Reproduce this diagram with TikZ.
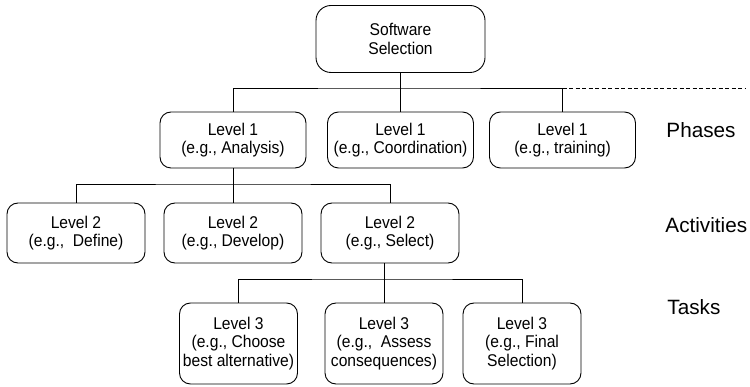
\documentclass[tikz,border=0pt]{standalone}
\usepackage{fontspec}
\setmainfont{Liberation Sans}
\usepackage{tikz}
\usetikzlibrary{positioning,calc}

\begin{document}
\begin{tikzpicture}[
    x=1pt, y=-1pt,
    line width=0.9pt,
    levelbox/.style={rectangle, draw, rounded corners=11pt, inner sep=0pt, align=center,
        font=\fontsize{17}{18.5}\selectfont\addfontfeature{FakeStretch=0.92}},
    lvlone/.style={levelbox, minimum width=146pt, minimum height=56pt},
    lvltwo/.style={levelbox, minimum width=138pt, minimum height=60pt},
    lvlthree/.style={levelbox, minimum width=118pt, minimum height=81pt},
    tag/.style={anchor=base west, inner sep=0pt, font=\fontsize{20.7}{24}\selectfont},
]
\useasboundingbox (0,0) rectangle (750,387);

% Root
\node[levelbox, rounded corners=15pt, minimum width=169pt, minimum height=67pt] (root) at (400.5,39) {Software\\Selection};

% Phases
\node[lvlone] (p1) at (233,140) {Level 1\\(e.g., Analysis)};
\node[lvlone] (p2) at (400.5,140) {Level 1\\(e.g., Coordination)};
\node[lvlone] (p3) at (562.5,140) {Level 1\\(e.g., training)};

% Activities
\node[lvltwo] (a1) at (76,233) {Level 2\\(e.g.,~ Define)};
\node[lvltwo] (a2) at (233,233) {Level 2\\(e.g., Develop)};
\node[lvltwo] (a3) at (390,233) {Level 2\\(e.g., Select)};

% Tasks
\node[lvlthree] (t1) at (238.5,343.5) {Level 3\\(e.g., Choose\\best alternative)};
\node[lvlthree] (t2) at (384,343.5) {Level 3\\(e.g.,~ Assess\\consequences)};
\node[lvlthree] (t3) at (522,343.5) {Level 3\\(e.g., Final\\Selection)};

% Row labels
\node[tag] (phases) at (666,138) {Phases};
\node[tag] (activities) at (665,233) {Activities};
\node[tag] (tasks) at (667,315) {Tasks};

% Connectors
\coordinate (bus1) at (400.5,88);
\coordinate (dashend) at (745,88);
\coordinate (bus2) at (233,184);
\coordinate (bus3) at (384,279);

\draw (root.south) -- (p2.north);
\draw (p1.north) |- (bus1) -| (p3.north);
\draw[dash pattern=on 4pt off 2.5pt] (p3.north |- bus1) -- (dashend);

\draw (p1.south) -- (bus2);
\draw (a1.north) |- (bus2) -| (a3.north);
\draw (a2.north) -- (bus2 -| a2.north);

\draw (t2.north |- a3.south) -- (t2.north);
\draw (t1.north) |- (bus3) -| (t3.north);

\end{tikzpicture}
\end{document}
